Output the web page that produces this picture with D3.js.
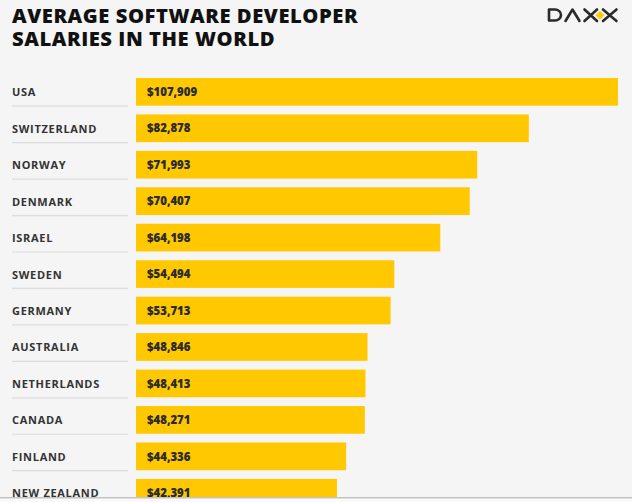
<!DOCTYPE html>
<html>
<head>
<meta charset="utf-8">
<script src="https://cdn.jsdelivr.net/npm/d3@7"></script>
<style>
  html, body { margin: 0; padding: 0; background: #f5f5f5; overflow: hidden; }
  svg { display: block; font-family: "Open Sans", sans-serif; }
</style>
</head>
<body>
<div id="chart"></div>
<script>
var countries = ["USA", "SWITZERLAND", "NORWAY", "DENMARK", "ISRAEL", "SWEDEN",
  "GERMANY", "AUSTRALIA", "NETHERLANDS", "CANADA", "FINLAND", "NEW ZEALAND"];
var salaries = [107909, 82878, 71993, 70407, 64198, 54494,
  53713, 48846, 48413, 48271, 44336, 42391];
var titleLines = ["AVERAGE SOFTWARE DEVELOPER", "SALARIES IN THE WORLD"];

var w = 632, h = 502;
var barLeft = 136, barRight = 618;

var data = countries.map(function(c, i) { return { name: c, value: salaries[i] }; });

var svg = d3.select("#chart").append("svg")
  .attr("width", w)
  .attr("height", h);

svg.append("rect").attr("width", w).attr("height", h).attr("fill", "#f5f5f5");

// title
svg.selectAll("text.title")
  .data(titleLines)
  .enter()
  .append("text")
  .attr("class", "title")
  .attr("x", 12)
  .attr("y", function(d, i) { return 23 + i * 23.3; })
  .attr("font-size", "20.2px")
  .attr("font-weight", 800)
  .attr("letter-spacing", "0.55px")
  .attr("fill", "#111")
  .text(function(d) { return d; });

// logo
var logo = svg.append("g")
  .attr("fill", "none")
  .attr("stroke", "#2a2a2a")
  .attr("stroke-width", 2.6)
  .attr("stroke-linejoin", "round")
  .attr("stroke-linecap", "round");
logo.append("path").attr("d", "M549,9.5 V20.5 H555 A6,5.5 0 0 0 555,9.5 Z");
logo.append("path").attr("d", "M565.5,21 L572.5,9.5 L579.5,21");
logo.append("path").attr("d", "M584.5,9.5 L597,21 M597,9.5 L584.5,21");
logo.append("path").attr("d", "M603,9.5 L616.5,21 M616.5,9.5 L603,21");
svg.append("path")
  .attr("d", "M600,11 L604.5,15.2 L600,19.4 L595.5,15.2 Z")
  .attr("fill", "#ffc800");

// scales
var x = d3.scaleLinear()
  .domain([0, 100000])
  .range([0, 474]);

var y = d3.scaleBand()
  .domain(countries)
  .range([73.6, 73.6 + countries.length * 36.45])
  .paddingInner(0.24)
  .paddingOuter(0.12);

svg.append("clipPath").attr("id", "barclip")
  .append("rect")
  .attr("x", barLeft).attr("y", 0)
  .attr("width", barRight - barLeft).attr("height", h);

svg.append("g")
  .attr("clip-path", "url(#barclip)")
  .selectAll("rect")
  .data(data)
  .enter()
  .append("rect")
  .attr("x", barLeft)
  .attr("y", function(d) { return y(d.name); })
  .attr("width", function(d) { return x(d.value); })
  .attr("height", y.bandwidth())
  .attr("fill", "#ffc800");

// separators under labels
svg.selectAll("line.sep")
  .data(data)
  .enter()
  .append("line")
  .attr("class", "sep")
  .attr("x1", 12)
  .attr("x2", 128)
  .attr("y1", function(d) { return y(d.name) + y.bandwidth() + 0.5; })
  .attr("y2", function(d) { return y(d.name) + y.bandwidth() + 0.5; })
  .attr("stroke", "#dcdcdc")
  .attr("stroke-width", 1.2);

// country labels
svg.selectAll("text.label")
  .data(data)
  .enter()
  .append("text")
  .attr("class", "label")
  .attr("x", 12)
  .attr("y", function(d) { return y(d.name) + y.bandwidth() / 2 + 4.5; })
  .attr("font-size", "11px")
  .attr("font-weight", 700)
  .attr("letter-spacing", "0.7px")
  .attr("fill", "#333")
  .text(function(d) { return d.name; });

// value labels
var fmt = d3.format(",");
svg.selectAll("text.value")
  .data(data)
  .enter()
  .append("text")
  .attr("class", "value")
  .attr("x", 147)
  .attr("y", function(d) { return y(d.name) + y.bandwidth() / 2 + 4.2; })
  .attr("font-size", "11.4px")
  .attr("font-weight", 800)
  .attr("fill", "#2b2b2b")
  .text(function(d) { return "$" + fmt(d.value); });

// bottom edge
svg.append("rect").attr("x", 0).attr("y", 497.5).attr("width", w).attr("height", 5).attr("fill", "#fafafa");
svg.append("line")
  .attr("x1", 0).attr("x2", w)
  .attr("y1", 497.8).attr("y2", 497.8)
  .attr("stroke", "#c4c4c4")
  .attr("stroke-width", 1.4);
</script>
</body>
</html>
